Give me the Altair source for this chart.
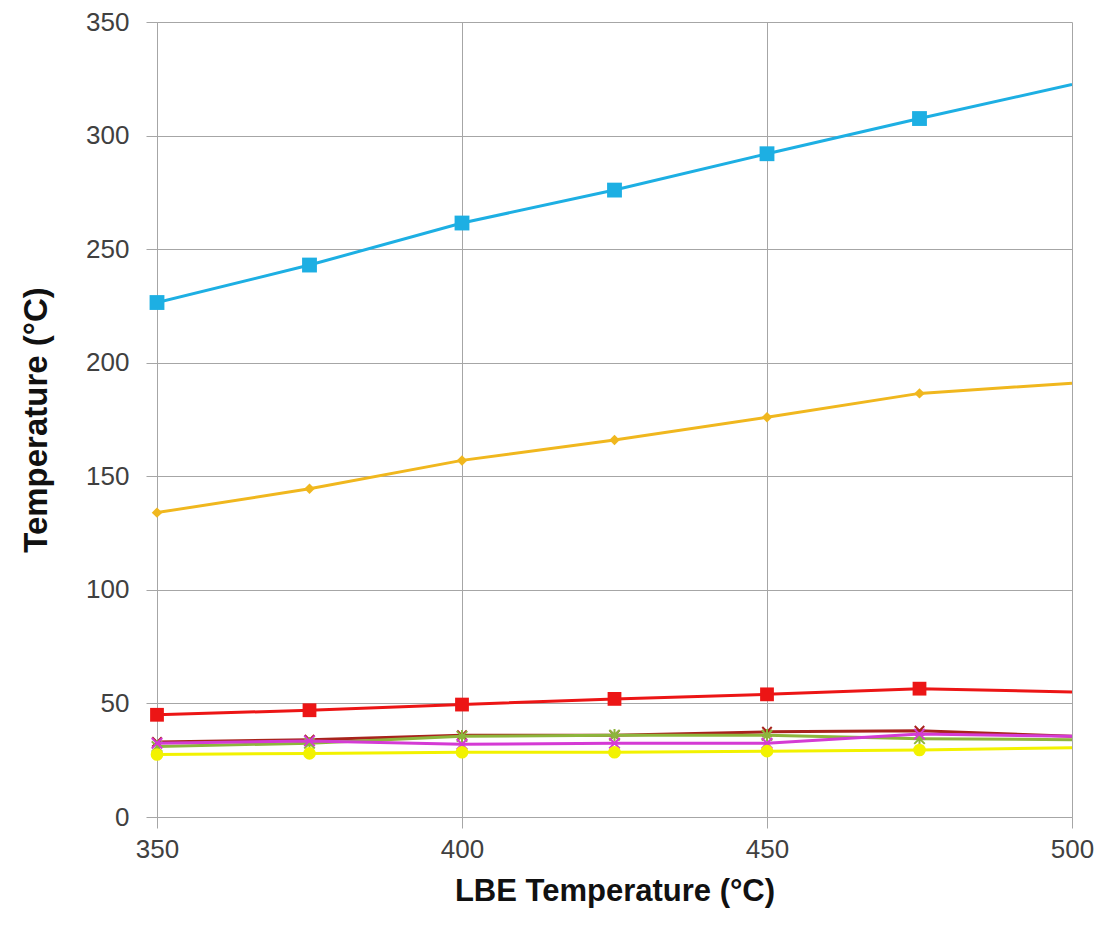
import altair as alt
import pandas as pd

x_vals = [350, 375, 400, 425, 450, 475, 500]
marker_until = 475

series_names = ["S1", "S2", "S3", "S4", "S5", "S6", "S7"]
cyan = [226.5, 243, 261.5, 276, 292, 307.5, 322.5]
orange = [134, 144.5, 157, 166, 176, 186.5, 191]
red = [45, 47, 49.5, 52, 54, 56.5, 55]
darkred = [33, 34, 36, 36, 37.5, 38, 35.5]
green = [31, 32.5, 35.5, 36, 36, 34.5, 34]
magenta = [32.5, 33.5, 32, 32.5, 32.5, 36.5, 35.5]
yellow = [27.5, 28, 28.5, 28.5, 29, 29.5, 30.5]

values = [cyan, orange, red, darkred, green, magenta, yellow]
colors = ["#1DAFE3", "#F0B71E", "#EC1515", "#A8231C", "#8DB53C", "#D43BD4", "#F2F200"]
shapes = ["square", "diamond", "square", "M-1,-1L1,1M-1,1L1,-1",
          "M-1,-1L1,1M-1,1L1,-1M0,-1.2L0,1.2", "M-1,-1L1,1M-1,1L1,-1", "circle"]
filled = [True, True, True, False, False, False, True]
sizes = [220, 110, 190, 90, 110, 110, 160]

x_scale = alt.Scale(domain=[350, 500], nice=False, zero=False)
y_scale = alt.Scale(domain=[0, 350], nice=False)

x_axis = alt.Axis(title="LBE Temperature (°C)", values=[350, 400, 450, 500],
                  labelFontSize=26, labelColor="#404040", labelFont="Liberation Sans",
                  labelFlush=False,
                  titleFontSize=31, titleFont="Liberation Sans", titleFontWeight="bold",
                  titleColor="#111111", titlePadding=14, labelPadding=8,
                  tickSize=11, tickColor="#A6A6A6", domainColor="#A6A6A6",
                  gridColor="#A6A6A6", gridWidth=1)
y_axis = alt.Axis(title="Temperature (°C)", values=list(range(0, 351, 50)),
                  labelFontSize=26, labelColor="#404040", labelFont="Liberation Sans",
                  labelFlush=False,
                  titleFontSize=33, titleFont="Liberation Sans", titleFontWeight="bold",
                  titleColor="#111111", titlePadding=32, labelPadding=17,
                  tickSize=11, tickColor="#A6A6A6", domainColor="#A6A6A6",
                  gridColor="#A6A6A6", gridWidth=1)

layers = []
for i, (name, vals) in enumerate(zip(series_names, values)):
    df = pd.DataFrame({"x": x_vals, "y": vals})
    base = alt.Chart(df)
    line = base.mark_line(color=colors[i], strokeWidth=3, clip=True).encode(
        x=alt.X("x:Q", scale=x_scale, axis=x_axis),
        y=alt.Y("y:Q", scale=y_scale, axis=y_axis),
    )
    pts_df = df[df["x"] <= marker_until]
    if filled[i]:
        pts = alt.Chart(pts_df).mark_point(shape=shapes[i], filled=True, color=colors[i],
                                           size=sizes[i], opacity=1).encode(
            x=alt.X("x:Q", scale=x_scale, axis=x_axis),
            y=alt.Y("y:Q", scale=y_scale, axis=y_axis),
        )
    else:
        pts = alt.Chart(pts_df).mark_point(shape=shapes[i], filled=False, color=colors[i],
                                           size=sizes[i], strokeWidth=2, opacity=1).encode(
            x=alt.X("x:Q", scale=x_scale, axis=x_axis),
            y=alt.Y("y:Q", scale=y_scale, axis=y_axis),
        )
    layers.append(line)
    layers.append(pts)

chart = alt.layer(*layers).properties(
    width=915, height=795,
    autosize=alt.AutoSizeParams(type="none"),
    padding={"left": 149, "top": 14, "right": 30, "bottom": 100},
    background="white",
).configure_view(stroke=None)

chart.save("out.html", embed_options={"renderer": "svg", "actions": False})
